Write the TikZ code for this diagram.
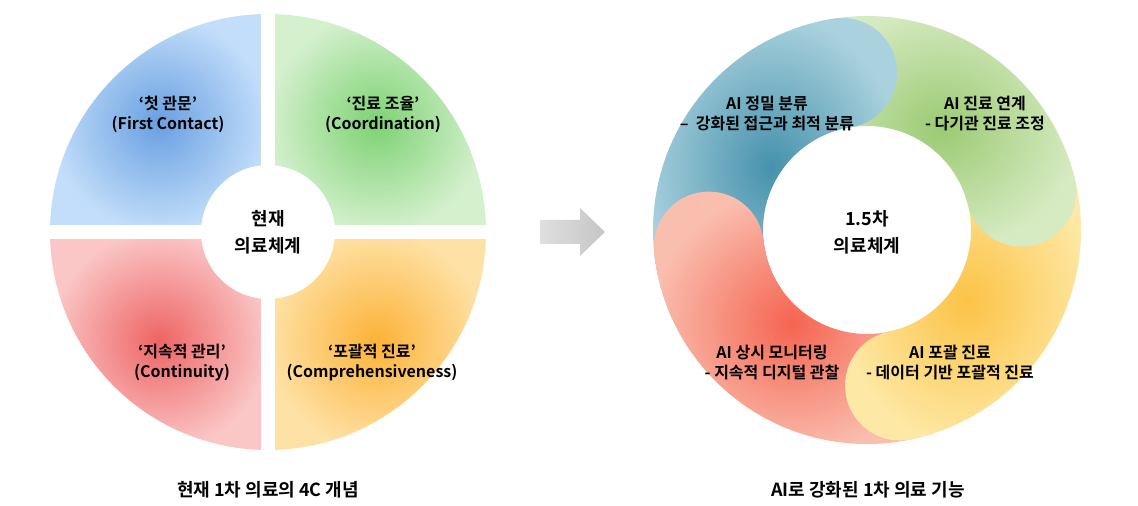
\documentclass[tikz,border=0pt]{standalone}
\usepackage{fontspec}
\setmainfont{Noto Sans CJK KR}[BoldFont={Noto Sans CJK KR Bold}]
\usetikzlibrary{calc, positioning}

\definecolor{qblue}{RGB}{105,160,225}
\definecolor{qbluel}{RGB}{195,222,250}
\definecolor{qgreen}{RGB}{125,210,115}
\definecolor{qgreenl}{RGB}{212,240,205}
\definecolor{qred}{RGB}{238,100,100}
\definecolor{qredl}{RGB}{250,198,198}
\definecolor{qorange}{RGB}{252,178,55}
\definecolor{qorangel}{RGB}{254,225,165}
\definecolor{bteal}{RGB}{70,145,172}
\definecolor{btealI}{RGB}{170,210,222}
\definecolor{bgreen}{RGB}{155,202,115}
\definecolor{bgreenl}{RGB}{215,235,195}
\definecolor{byellow}{RGB}{252,195,70}
\definecolor{byellowl}{RGB}{253,232,165}
\definecolor{bred}{RGB}{245,100,80}
\definecolor{bredl}{RGB}{250,190,175}

% one coloured ring piece with a round head
\newcommand\bandpath[2]{(#1:214) arc[start angle=#1,end angle=#2,radius=214]
  arc[start angle=#2,end angle=#2-180,radius=55]
  arc[start angle=#2,end angle=#1,radius=104] -- cycle}
\newcommand\quadpath[2]{(#1:218) arc[start angle=#1,end angle=#2,radius=218]
  -- (#2:67) arc[start angle=#2,end angle=#1,radius=67] -- cycle}

\begin{document}
\begin{tikzpicture}[x=1pt, y=1pt,
    label/.style={font=\bfseries\fontsize{16}{20}\selectfont, align=center},
    hub/.style={font=\bfseries\fontsize{18}{27}\selectfont, align=center},
    caption/.style={font=\bfseries\fontsize{18}{20}\selectfont}]
  \useasboundingbox (0,0) rectangle (1138,506);

  % --- current 4C ring ---
  \begin{scope}[shift={(268,274)}]
    \shade[inner color=qblue, outer color=qbluel] \quadpath{90}{180};
    \shade[inner color=qgreen, outer color=qgreenl] \quadpath{0}{90};
    \shade[inner color=qred, outer color=qredl] \quadpath{180}{270};
    \shade[inner color=qorange, outer color=qorangel] \quadpath{270}{360};
    \fill[white] (-225,-7) rectangle (225,7);
    \fill[white] (-7,-225) rectangle (7,225);
  \end{scope}
  \node[hub] (now) at (268,274) {현재\\의료체계};
  \node[label] (q1) at (168,392) {‘첫 관문’\\(First Contact)};
  \node[label] (q2) at (383,392) {‘진료 조율’\\(Coordination)};
  \node[label] (q3) at (182,143) {‘지속적 관리’\\(Continuity)};
  \node[label] (q4) at (372,143) {‘포괄적 진료’\\(Comprehensiveness)};
  \node[caption] (cap1) at (268,16) {현재 1차 의료의 4C 개념};

  % arrow
  \shade[left color=gray!25, right color=gray!45]
    (540,262) -- (580,262) -- (580,250) -- (605,274) -- (580,298) -- (580,286) -- (540,286) -- cycle;

  % --- AI ring ---
  \begin{scope}[shift={(867,276)}]
    \shade[inner color=bred, outer color=bredl] \bandpath{-72}{-174};
    \shade[inner color=byellow, outer color=byellowl] \bandpath{20}{-78};
    \shade[inner color=bgreen, outer color=bgreenl] \bandpath{108}{14};
    \shade[inner color=bteal, outer color=btealI] \bandpath{205}{99};
    \begin{scope}
      \clip (0,0) -- (150:260) arc[start angle=150,end angle=215,radius=260] -- cycle;
      \shade[inner color=bred, outer color=bredl] \bandpath{-72}{-174};
    \end{scope}
  \end{scope}
  \node[hub] (ai) at (867,274) {1.5차\\의료체계};
  \node[label] (b1) at (767,392) {AI 정밀 분류\\–\ \ 강화된 접근과 최적 분류};
  \node[label] (b2) at (985,392) {AI 진료 연계\\- 다기관 진료 조정};
  \node[label] (b3) at (772,143) {AI 상시 모니터링\\- 지속적 디지털 관찰};
  \node[label] (b4) at (950,143) {AI 포괄 진료\\- 데이터 기반 포괄적 진료};
  \node[caption] (cap2) at (868,16) {AI로 강화된 1차 의료 기능};
\end{tikzpicture}
\end{document}
